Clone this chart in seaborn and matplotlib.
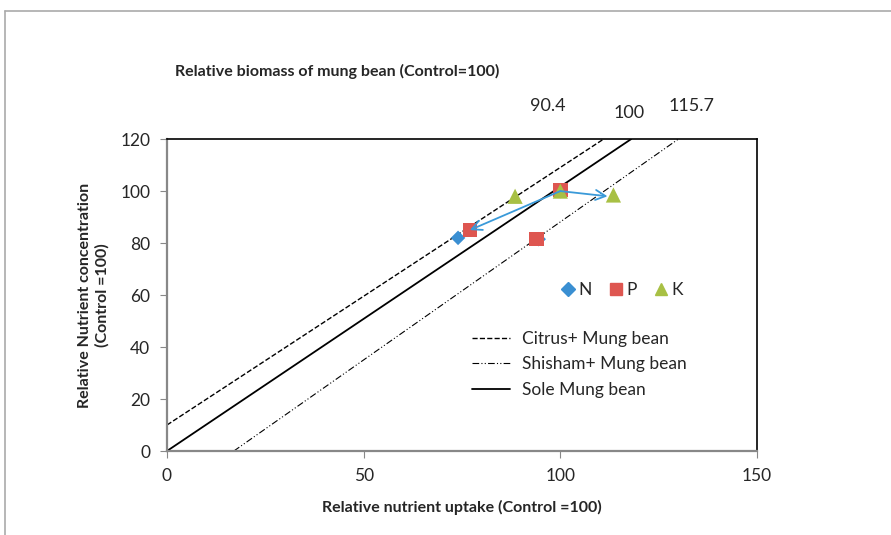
import pandas as pd
import matplotlib.pyplot as plt
import seaborn as sns
from matplotlib.lines import Line2D

# nutrient points (relative uptake, relative concentration)
n_x = [74, 94.5, 100]
n_y = [82, 81.5, 100]
p_x = [77, 94, 100]
p_y = [85, 81.5, 100.5]
k_x = [88.5, 100, 113.5]
k_y = [98, 100, 98.5]

# reference lines for biomass levels (start and end points)
line_names = ['Citrus+ Mung bean', 'Shisham+ Mung bean', 'Sole Mung bean']
line_x = [[0, 111], [17, 130], [0, 118]]
line_y = [[10, 120], [0, 120], [0, 120]]
biomass_labels = ['90.4', '100', '115.7']

# vector arrows (start -> end)
arrow_from = [(100, 100), (100, 100)]
arrow_to = [(77, 85), (112, 98)]

df = pd.DataFrame({
    'x': n_x + p_x + k_x,
    'y': n_y + p_y + k_y,
    'nutrient': ['N'] * 3 + ['P'] * 3 + ['K'] * 3,
})

sns.set_style("white")
plt.rcParams['font.family'] = ['Lato', 'DejaVu Sans']

fig = plt.figure(figsize=(8.91, 5.35), dpi=100)
ax = fig.add_axes([0.1874, 0.157, 0.6622, 0.583])

styles = ['--', (0, (6, 2, 1, 2, 1, 2)), '-']
widths = [1.0, 0.8, 1.3]
for name, xs, ys, ls, lw in zip(line_names, line_x, line_y, styles, widths):
    ax.plot(xs, ys, color='black', linestyle=ls, linewidth=lw, label=name)

palette = {'N': '#3A8FD2', 'P': '#DE5650', 'K': '#A8C044'}
markers = {'N': 'D', 'P': 's', 'K': '^'}
sizes = {'N': 55, 'P': 110, 'K': 120}
for nut in ['N', 'P', 'K']:
    sub = df[df['nutrient'] == nut]
    sns.scatterplot(data=sub, x='x', y='y', color=palette[nut], marker=markers[nut],
                    s=sizes[nut], edgecolor='none', ax=ax, zorder=3, legend=False)

for (x0, y0), (x1, y1) in zip(arrow_from, arrow_to):
    ax.annotate('', xy=(x1, y1), xytext=(x0, y0),
                arrowprops=dict(arrowstyle='->', color='#3A9AD9', lw=1.3,
                                mutation_scale=18, shrinkA=0, shrinkB=0), zorder=4)

ax.set_xlim(0, 150)
ax.set_ylim(0, 120)
ax.set_xticks([0, 50, 100, 150])
ax.set_yticks(range(0, 121, 20))
ax.tick_params(axis='both', labelsize=12.5, length=5, color='#888888', direction='out',
               bottom=True, left=True, pad=7)
for side in ['left', 'bottom']:
    ax.spines[side].set_color('#888888')
    ax.spines[side].set_linewidth(1.6)
for side in ['top', 'right']:
    ax.spines[side].set_color('black')
    ax.spines[side].set_linewidth(1.2)

ax.set_xlabel('Relative nutrient uptake (Control =100)', fontsize=11.5, fontweight='bold', labelpad=12)
ax.set_ylabel('Relative Nutrient concentration\n(Control =100)', fontsize=11.5, fontweight='bold', labelpad=8)

# marker legend
mk_handles = [Line2D([], [], linestyle='none', marker=markers[n], color=palette[n],
                     markersize=9 if n != 'N' else 7) for n in ['N', 'P', 'K']]
leg1 = ax.legend(mk_handles, ['N', 'P', 'K'], ncol=3, frameon=False, fontsize=12.5,
                 loc='center', bbox_to_anchor=(0.77, 0.515), handletextpad=0.1,
                 columnspacing=0.9, handlelength=1.0)
ax.add_artist(leg1)

ln_handles = [Line2D([], [], color='black', linestyle=ls, linewidth=lw)
              for ls, lw in zip(styles, widths)]
ax.legend(ln_handles, line_names, frameon=False, fontsize=12.5, loc='upper left',
          bbox_to_anchor=(0.49, 0.435), handlelength=2.2, handletextpad=0.7, labelspacing=0.55)

fig.text(175 / 891, 1 - 71 / 535, 'Relative biomass of mung bean (Control=100)',
         fontsize=11.5, fontweight='bold', va='center')
for lab, px, py in zip(biomass_labels, [548, 629, 692], [106, 113, 106]):
    fig.text(px / 891, 1 - py / 535, lab, fontsize=13, ha='center', va='center')

# outer frame
fig.add_artist(Line2D([5 / 891, 1], [1 - 11 / 535, 1 - 11 / 535], color='#AAAAAA', lw=1.2))
fig.add_artist(Line2D([5 / 891, 5 / 891], [0, 1 - 11 / 535], color='#AAAAAA', lw=1.2))

plt.savefig('out.png', dpi=100)
